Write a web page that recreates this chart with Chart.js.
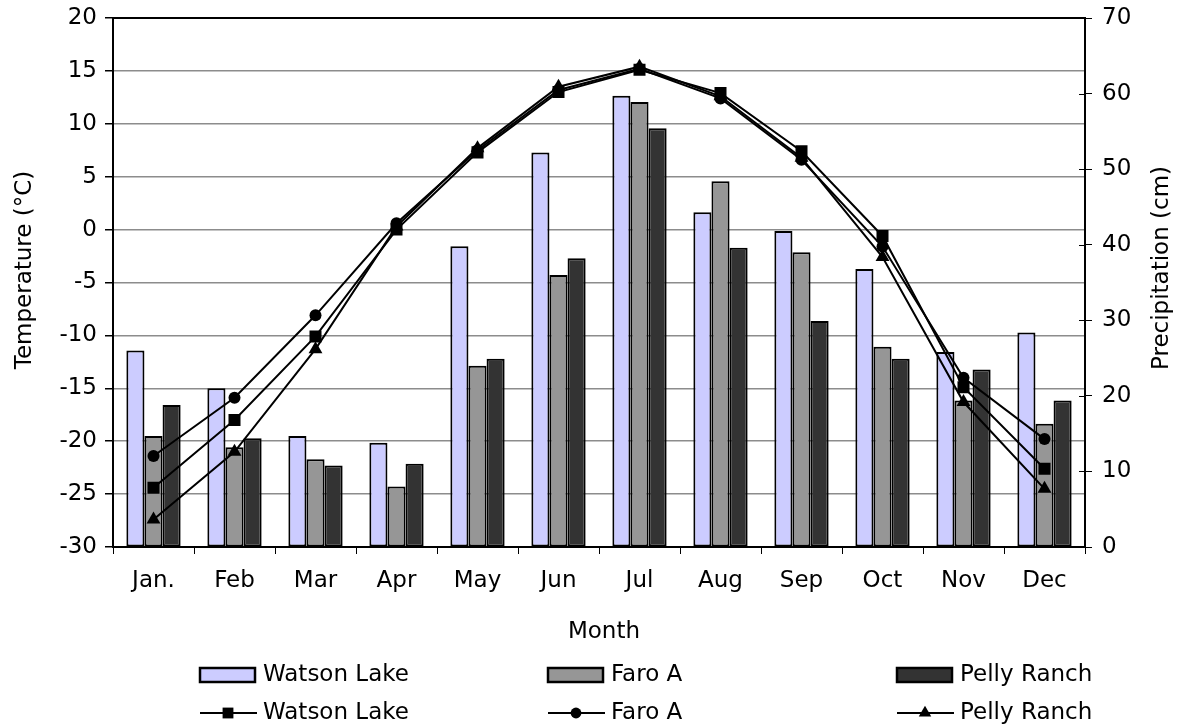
<!DOCTYPE html>
<html>
<head>
<meta charset="utf-8">
<title>Yukon climate</title>
<script src="https://cdn.jsdelivr.net/npm/chart.js@4/dist/chart.umd.min.js"></script>
<style>
    body { margin: 0; background: #fff; }
    #wrap { width: 1184px; height: 727px; }
</style>
</head>
<body>
<div id="wrap"><canvas id="climate-canvas"></canvas></div>
<script>
//month labels
const months = ['Jan.', 'Feb', 'Mar', 'Apr', 'May', 'Jun', 'Jul', 'Aug', 'Sep', 'Oct', 'Nov', 'Dec'];

//precipitation (cm) for each station
const precipWatson = [26.0, 21.0, 14.7, 13.8, 39.8, 52.2, 59.7, 44.3, 41.8, 36.8, 25.8, 28.4];
const precipFaro = [14.7, 13.2, 11.6, 8.0, 24.0, 36.0, 58.9, 48.4, 39.0, 26.5, 19.4, 16.3];
const precipPelly = [18.8, 14.4, 10.8, 11.0, 24.9, 38.2, 55.4, 39.6, 29.9, 24.9, 23.5, 19.4];

//mean temperature (C) for each station
const tempWatson = [-24.4, -18.0, -10.1, 0.0, 7.3, 13.0, 15.1, 12.9, 7.4, -0.6, -14.9, -22.6];
const tempFaro = [-21.4, -15.9, -8.1, 0.6, 7.5, 13.2, 15.2, 12.4, 6.6, -1.6, -14.0, -19.8];
const tempPelly = [-27.4, -21.0, -11.3, 0.3, 7.7, 13.5, 15.4, 12.6, 6.8, -2.6, -16.3, -24.5];

//axis tick settings
const tempMin = -30, tempMax = 20, tempStep = 5;
const precipMin = 0, precipMax = 70, precipStep = 10;

const FONT = 'DejaVu Sans, Verdana, sans-serif';
const FSIZE = 23;

function barSet(label, data, color) {
    return {
        type: 'bar',
        label: label,
        data: data,
        yAxisID: 'yP',
        backgroundColor: color,
        borderColor: '#000',
        borderWidth: 2,
        borderSkipped: false,
        categoryPercentage: 0.67,
        barPercentage: 1.0,
        order: 2
    };
}

function lineSet(label, data, style, radius) {
    return {
        type: 'line',
        label: label,
        data: data,
        yAxisID: 'yT',
        borderColor: '#000',
        borderWidth: 2,
        backgroundColor: '#000',
        pointStyle: style,
        pointRadius: radius,
        pointBorderWidth: 0,
        pointBackgroundColor: '#000',
        tension: 0,
        order: 1
    };
}

//keep the value axes from pushing the plot edges in
function fixAxis(width) {
    return function (scale) {
        scale.width = width;
        scale.paddingTop = 0;
        scale.paddingBottom = 0;
    };
}

//axis titles, month title and a 3 column legend drawn by hand
const extras = {
    id: 'extras',
    afterDraw(chart) {
        const ctx = chart.ctx;
        const area = chart.chartArea;
        ctx.save();

        // black top border of the plot
        ctx.strokeStyle = '#000';
        ctx.lineWidth = 2;
        ctx.beginPath();
        ctx.moveTo(area.left, area.top);
        ctx.lineTo(area.right, area.top);
        ctx.stroke();

        // right axis ticks cross the axis line
        const yP = chart.scales.yP;
        ctx.lineWidth = 1;
        for (let v = precipMin + precipStep; v < precipMax; v += precipStep) {
            const py = Math.round(yP.getPixelForValue(v)) + 0.5;
            ctx.beginPath();
            ctx.moveTo(area.right - 6, py);
            ctx.lineTo(area.right, py);
            ctx.stroke();
        }

        ctx.fillStyle = '#000';
        ctx.font = FSIZE + 'px ' + FONT;
        ctx.textBaseline = 'middle';
        ctx.textAlign = 'center';
        ctx.fillText('Month', 604, 632);

        ctx.save();
        ctx.translate(25, 270);
        ctx.rotate(-Math.PI / 2);
        ctx.fillText('Temperature (\u00B0C)', 0, 0);
        ctx.restore();

        ctx.save();
        ctx.translate(1162, 268);
        ctx.rotate(-Math.PI / 2);
        ctx.fillText('Precipitation (cm)', 0, 0);
        ctx.restore();

        // legend: bars on first row, lines on second
        const cols = [200, 548, 897];
        const sets = chart.data.datasets;
        const bars = sets.filter(d => d.type === 'bar');
        const lines = sets.filter(d => d.type === 'line');
        ctx.textAlign = 'left';
        bars.forEach((d, i) => {
            const x = cols[i], y = 675;
            ctx.fillStyle = d.backgroundColor;
            ctx.fillRect(x, y - 7, 55, 14);
            ctx.strokeStyle = '#000';
            ctx.lineWidth = 2.5;
            ctx.strokeRect(x, y - 7, 55, 14);
            ctx.fillStyle = '#000';
            ctx.fillText(d.label, x + 63, y);
        });
        lines.forEach((d, i) => {
            const x = cols[i], y = 713;
            ctx.strokeStyle = '#000';
            ctx.lineWidth = 2;
            ctx.beginPath();
            ctx.moveTo(x, y);
            ctx.lineTo(x + 57, y);
            ctx.stroke();
            ctx.fillStyle = '#000';
            Chart.helpers.drawPoint(ctx, {
                pointStyle: d.pointStyle,
                radius: d.pointRadius * 0.9,
                rotation: 0,
                borderWidth: 0
            }, x + 28, y);
            ctx.fillStyle = '#000';
            ctx.fillText(d.label, x + 63, y);
        });
        ctx.restore();
    }
};

const ctx = document.getElementById('climate-canvas');

const chart = new Chart(ctx, {
    type: 'bar',
    data: {
        labels: months,
        datasets: [
            barSet('Watson Lake', precipWatson, '#CCCCFF'),
            barSet('Faro A', precipFaro, '#969696'),
            barSet('Pelly Ranch', precipPelly, '#333333'),
            lineSet('Watson Lake', tempWatson, 'rect', 8.5),
            lineSet('Faro A', tempFaro, 'circle', 6),
            lineSet('Pelly Ranch', tempPelly, 'triangle', 8)
        ]
    },
    options: {
        responsive: true,
        maintainAspectRatio: false,
        animation: false,
        layout: { padding: { top: 18, left: 0, right: 0, bottom: 0 } },
        plugins: {
            legend: { display: false },
            tooltip: { enabled: false }
        },
        scales: {
            x: {
                offset: true,
                grid: {
                    offset: true,
                    drawOnChartArea: false,
                    color: '#000',
                    tickLength: 7
                },
                border: { color: '#000', width: 2 },
                ticks: {
                    color: '#000',
                    font: { family: FONT, size: FSIZE },
                    padding: 13,
                    maxRotation: 0
                },
                afterFit(scale) {
                    scale.height = 180;
                    scale.paddingLeft = 0;
                    scale.paddingRight = 0;
                }
            },
            yT: {
                position: 'left',
                min: tempMin,
                max: tempMax,
                ticks: {
                    stepSize: tempStep,
                    color: '#000',
                    font: { family: FONT, size: FSIZE },
                    padding: 8
                },
                grid: {
                    color: '#8c8c8c',
                    lineWidth: 1.5,
                    tickColor: '#000',
                    tickLength: 8
                },
                border: { color: '#000', width: 2 },
                afterFit: fixAxis(113)
            },
            yP: {
                position: 'right',
                min: precipMin,
                max: precipMax,
                ticks: {
                    stepSize: precipStep,
                    color: '#000',
                    font: { family: FONT, size: FSIZE },
                    padding: 10
                },
                grid: {
                    drawOnChartArea: false,
                    tickColor: '#000',
                    tickLength: 7
                },
                border: { color: '#000', width: 2 },
                afterFit: fixAxis(99)
            }
        }
    },
    plugins: [extras]
});
</script>
</body>
</html>
